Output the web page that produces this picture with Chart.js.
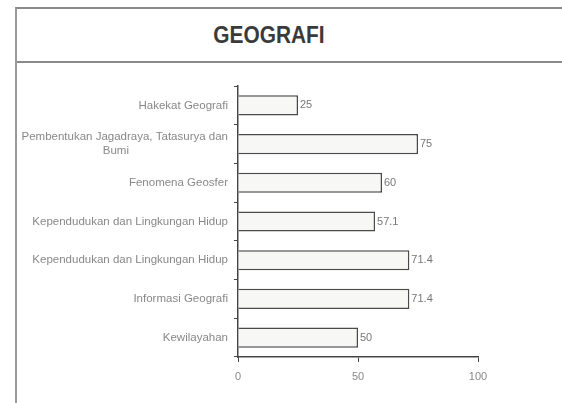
<!DOCTYPE html>
<html>
<head>
<meta charset="utf-8">
<script src="https://cdn.jsdelivr.net/npm/chart.js@4"></script>
<style>
  body { margin: 0; background: #fff; }
  #wrap { position: relative; width: 562px; height: 403px; overflow: hidden; }
  #frame { position: absolute; left: 15px; top: 7px; width: 600px; height: 420px;
           border-left: 2px solid #9a9a9a; border-top: 2px solid #8a8a8a; }
  #title { position: absolute; left: 17px; top: 9px; width: 504px; height: 52px;
           text-align: center; font: bold 24px "Liberation Sans", Arial, sans-serif; line-height: 52px;
           color: #3a3a3a; transform: scaleX(0.87); transform-origin: 252px 0; }
  #sep { position: absolute; left: 17px; top: 61px; width: 560px; border-top: 2px solid #8a8a8a; }
  canvas { position: absolute; left: 0; top: 0; }
</style>
</head>
<body>
<div id="wrap">
  <div id="frame"></div>
  <div id="title">GEOGRAFI</div>
  <div id="sep"></div>
  <canvas id="geoChart" width="562" height="403"></canvas>
</div>
<script>
const categories = [
  'Hakekat Geografi',
  ['Pembentukan Jagadraya, Tatasurya dan', 'Bumi\u00a0\u00a0\u00a0\u00a0\u00a0\u00a0\u00a0\u00a0\u00a0\u00a0\u00a0\u00a0\u00a0\u00a0\u00a0\u00a0\u00a0\u00a0\u00a0\u00a0\u00a0\u00a0\u00a0\u00a0\u00a0\u00a0\u00a0\u00a0\u00a0\u00a0\u00a0'],
  'Fenomena Geosfer',
  'Kependudukan dan Lingkungan Hidup',
  'Kependudukan dan Lingkungan Hidup',
  'Informasi Geografi',
  'Kewilayahan'
];
const scores = [25, 75, 60, 57.1, 71.4, 71.4, 50];
const xTicks = [0, 50, 100];

const valueLabels = {
  id: 'valueLabels',
  afterDatasetsDraw(chart) {
    const ctx = chart.ctx;
    const meta = chart.getDatasetMeta(0);
    ctx.save();
    ctx.font = '11px "Liberation Sans", sans-serif';
    ctx.fillStyle = '#777';
    ctx.textBaseline = 'middle';
    meta.data.forEach((bar, i) => {
      ctx.fillText(String(scores[i]), bar.x + 2, bar.y);
    });
    ctx.restore();
  }
};

new Chart(document.getElementById('geoChart'), {
  type: 'bar',
  data: {
    labels: categories,
    datasets: [{
      data: scores,
      backgroundColor: '#f7f7f5',
      borderColor: '#4a4a4a',
      borderWidth: 1.5,
      barPercentage: 0.52,
      categoryPercentage: 1
    }]
  },
  options: {
    indexAxis: 'y',
    responsive: false,
    animation: false,
    layout: { padding: { top: 86, right: 84, bottom: 16, left: 0 } },
    plugins: { legend: { display: false }, tooltip: { enabled: false } },
    scales: {
      x: {
        min: 0,
        max: 100,
        afterBuildTicks(scale) { scale.ticks = xTicks.map(v => ({ value: v })); },
        afterFit(scale) { scale.height = 30; },
        grid: { drawOnChartArea: false, drawTicks: true, tickLength: 5, color: '#444' },
        border: { color: '#444', width: 1.5 },
        ticks: { color: '#888', padding: 8, font: { family: '"Liberation Sans", sans-serif', size: 11 } }
      },
      y: {
        afterFit(scale) { scale.width = 238; },
        grid: { drawOnChartArea: false, drawTicks: true, tickLength: 4, color: '#444', offset: true },
        border: { color: '#444', width: 1.5 },
        ticks: { color: '#888', padding: 6, font: { family: '"Liberation Sans", sans-serif', size: 11.5 } }
      }
    }
  },
  plugins: [valueLabels]
});
</script>
</body>
</html>
